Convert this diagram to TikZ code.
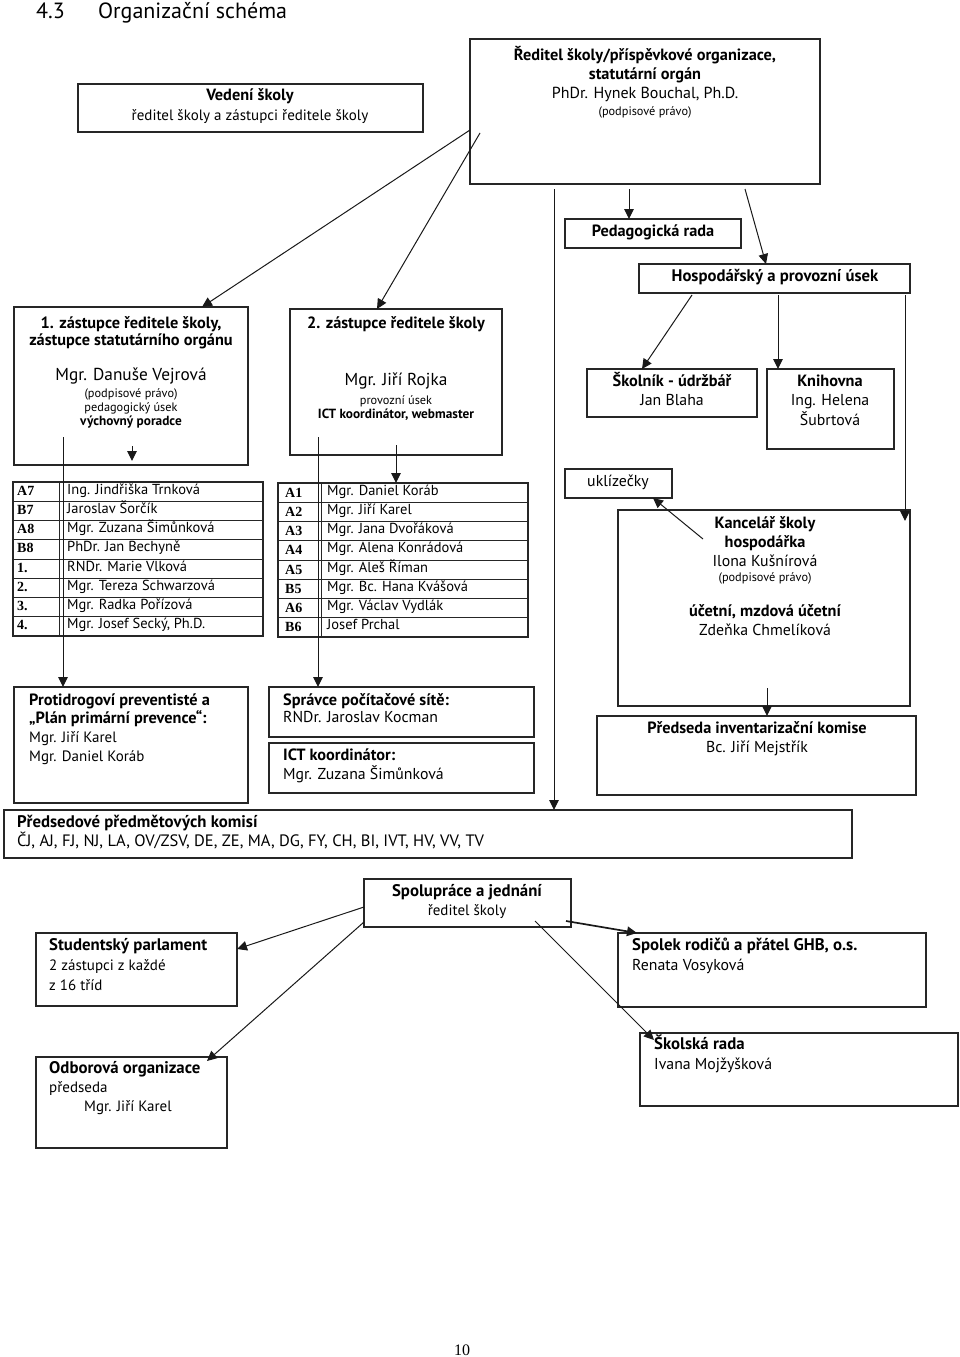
\documentclass[tikz,border=0pt]{standalone}
\usepackage{fontspec}
\setmainfont{PT Sans}
\newfontfamily\tabserif{Liberation Serif}
\usetikzlibrary{arrows.meta,calc}
\newcommand\fsz[1]{\fontsize{#1}{#1}\selectfont}
\tikzset{
 box/.style={draw=black!85, line width=1.3pt, inner sep=0pt, outer sep=0pt, anchor=north west},
 arr/.style={-{Triangle[length=10pt,width=9.5pt]}, line width=1pt, draw=black!90},
 tc/.style={anchor=mid, inner sep=0pt},
 tl/.style={anchor=mid west, inner sep=0pt},
 hb/.style={font=\fsz{16.3}\bfseries},
 hbb/.style={font=\fsz{16.8}\bfseries},
 rg/.style={font=\fsz{15}},
 rgb/.style={font=\fsz{15.8}},
 sm/.style={font=\fsz{12.3}},
 smb/.style={font=\fsz{13.3}\bfseries},
 tlab/.style={anchor=mid west, inner sep=0pt, font=\tabserif\fsz{14}\bfseries},
 tnam/.style={anchor=mid west, inner sep=0pt, font=\fsz{14.5}},
 rowline/.style={line width=0.9pt, draw=black!85},
}
\begin{document}
\begin{tikzpicture}[x=1pt,y=-1pt]
\useasboundingbox (0,0) rectangle (960,1357);
% title
\node[anchor=base west, inner sep=0pt, font=\fsz{22}] (tt1) at (36,18) {4.3};
\node[anchor=base west, inner sep=0pt, font=\fsz{22}] (tt2) at (98,18) {Organizační schéma};

% boxes
\node[box, minimum width=345pt, minimum height=48pt] (ved) at (78,84) {};
\node[box, minimum width=350pt, minimum height=145pt] (dir) at (470,39) {};
\node[box, minimum width=176pt, minimum height=29pt] (ped) at (565,219) {};
\node[box, minimum width=271pt, minimum height=29pt] (hos) at (639,264) {};
\node[box, minimum width=234pt, minimum height=158pt] (dep1) at (14,307) {};
\node[box, minimum width=212pt, minimum height=146pt] (dep2) at (290,309) {};
\node[box, minimum width=170pt, minimum height=48pt] (skol) at (587,369) {};
\node[box, minimum width=127pt, minimum height=80pt] (kni) at (767,369) {};
\node[box, minimum width=107pt, minimum height=29pt] (ukl) at (565,469) {};
\node[box, minimum width=292pt, minimum height=196pt] (kan) at (618,510) {};
\node[box, minimum width=250pt, minimum height=154pt] (tabL) at (13,482) {};
\node[box, minimum width=250pt, minimum height=154pt] (tabR) at (278,483) {};
\node[box, minimum width=234pt, minimum height=116pt] (prot) at (14,687) {};
\node[box, minimum width=265pt, minimum height=50pt] (spr) at (269,687) {};
\node[box, minimum width=265pt, minimum height=50pt] (ict) at (269,743) {};
\node[box, minimum width=319pt, minimum height=79pt] (inv) at (597,716) {};
\node[box, minimum width=848pt, minimum height=48pt] (pred) at (4,810) {};
\node[box, minimum width=207pt, minimum height=48pt] (spol) at (364,879) {};
\node[box, minimum width=201pt, minimum height=73pt] (stud) at (36,933) {};
\node[box, minimum width=308pt, minimum height=74pt] (spk) at (618,933) {};
\node[box, minimum width=191pt, minimum height=91pt] (odb) at (36,1057) {};
\node[box, minimum width=318pt, minimum height=73pt] (skr) at (640,1033) {};

% tables: grid lines
\foreach \i in {1,...,7} {
  \draw[rowline] ($(tabL.north west)+(0,{19.25*\i})$) -- ($(tabL.north east)+(0,{19.25*\i})$);
  \draw[rowline] ($(tabR.north west)+(0,{19.25*\i})$) -- ($(tabR.north east)+(0,{19.25*\i})$);
}
\draw[rowline] (59,0 |- tabL.north) -- (59,0 |- tabL.south);
\draw[rowline] (321,0 |- tabR.north) -- (321,0 |- tabR.south);

% left table text
\foreach \lab/\nam [count=\i from 0] in {A7/Ing. Jindřiška Trnková, B7/Jaroslav Šorčík, A8/Mgr. Zuzana Šimůnková, B8/PhDr. Jan Bechyně, 1./RNDr. Marie Vlková, 2./Mgr. Tereza Schwarzová, 3./Mgr. Radka Pořízová, 4./{Mgr. Josef Secký, Ph.D.}} {
  \node[tlab] (la\i) at (17,{482+19.25*(\i+0.5)+1}) {\lab};
  \node[tnam] (ln\i) at (67,{482+19.25*(\i+0.5)}) {\nam};
}
\foreach \lab/\nam [count=\i from 0] in {A1/Mgr. Daniel Koráb, A2/Mgr. Jiří Karel, A3/Mgr. Jana Dvořáková, A4/Mgr. Alena Konrádová, A5/Mgr. Aleš Říman, B5/Mgr. Bc. Hana Kvášová, A6/Mgr. Václav Vydlák, B6/Josef Prchal} {
  \node[tlab] (ra\i) at (285,{483+19.25*(\i+0.5)+2}) {\lab};
  \node[tnam] (rn\i) at (327,{483+19.25*(\i+0.5)}) {\nam};
}

% texts
\node[tc,hb] (v1) at (250,98) {Vedení školy};
\node[tc,rg] (v2) at (250,118) {ředitel školy a zástupci ředitele školy};

\node[tc,hb] (d1) at (645,58) {Ředitel školy/příspěvkové organizace,};
\node[tc,hb] (d2) at (645,77) {statutární orgán};
\node[tc,rg,font=\fsz{16}] (d3) at (645,96) {PhDr. Hynek Bouchal, Ph.D.};
\node[tc,sm] (d4) at (645,113) {(podpisové právo)};

\node[tc,hb] (p1) at (653,234) {Pedagogická rada};
\node[tc,hb,font=\fsz{16.7}\bfseries] (h1) at (775,279) {Hospodářský a provozní úsek};

\node[tc,hb] (a1) at (131,326) {1. zástupce ředitele školy,};
\node[tc,hb] (a2) at (131,343) {zástupce statutárního orgánu};
\node[tc,rg,font=\fsz{17.3}] (a3) at (131,378) {Mgr. Danuše Vejrová};
\node[tc,sm] (a4) at (131,395) {(podpisové právo)};
\node[tc,sm] (a5) at (131,409) {pedagogický úsek};
\node[tc,smb] (a6) at (131,423) {výchovný poradce};

\node[tc,hb] (b1) at (396,326) {2. zástupce ředitele školy};
\node[tc,rg,font=\fsz{17.3}] (b2) at (396,383) {Mgr. Jiří Rojka};
\node[tc,sm] (b3) at (396,402) {provozní úsek};
\node[tc,smb] (b4) at (396,416) {ICT koordinátor, webmaster};

\node[tc,hb] (s1) at (672,384) {Školník - údržbář};
\node[tc,rgb] (s2) at (672,403) {Jan Blaha};
\node[tc,hb] (k1) at (830,384) {Knihovna};
\node[tc,rgb] (k2) at (830,403) {Ing. Helena};
\node[tc,rgb] (k3) at (830,423) {Šubrtová};

\node[tc,rgb] (u1) at (618,484) {uklízečky};

\node[tc,hb] (n1) at (765,526) {Kancelář školy};
\node[tc,hb] (n2) at (765,545) {hospodářka};
\node[tc,rgb] (n3) at (765,564) {Ilona Kušnírová};
\node[tc,sm] (n4) at (765,579) {(podpisové právo)};
\node[tc,hb] (n5) at (765,614) {účetní, mzdová účetní};
\node[tc,rgb] (n6) at (765,633) {Zdeňka Chmelíková};

\node[tl,hb] (q1) at (29,703) {Protidrogoví preventisté a};
\node[tl,hb] (q2) at (29,721) {„Plán primární prevence“:};
\node[tl,rg] (q3) at (29,740) {Mgr. Jiří Karel};
\node[tl,rg] (q4) at (29,759) {Mgr. Daniel Koráb};

\node[tl,hb] (r1) at (283,703) {Správce počítačové sítě:};
\node[tl,rgb] (r2) at (283,720) {RNDr. Jaroslav Kocman};
\node[tl,hb] (r3) at (283,758) {ICT koordinátor:};
\node[tl,rgb] (r4) at (283,777) {Mgr. Zuzana Šimůnková};

\node[tc,hb] (i1) at (757,731) {Předseda inventarizační komise};
\node[tc,rgb] (i2) at (757,750) {Bc. Jiří Mejstřík};

\node[tl,hbb] (e1) at (17,825) {Předsedové předmětových komisí};
\node[tl,rg,font=\fsz{16.5}] (e2) at (17,844) {ČJ, AJ, FJ, NJ, LA, OV/ZSV, DE, ZE, MA, DG, FY, CH, BI, IVT, HV, VV, TV};

\node[tc,hbb] (o1) at (467,894) {Spolupráce a jednání};
\node[tc,rg] (o2) at (467,913) {ředitel školy};

\node[tl,hbb] (w1) at (49,948) {Studentský parlament};
\node[tl,rg] (w2) at (49,968) {2 zástupci z každé};
\node[tl,rg] (w3) at (49,988) {z 16 tříd};

\node[tl,hbb] (x1) at (632,948) {Spolek rodičů a přátel GHB, o.s.};
\node[tl,rgb] (x2) at (632,968) {Renata Vosyková};

\node[tl,hbb] (y1) at (49,1071) {Odborová organizace};
\node[tl,rg] (y2) at (49,1090) {předseda};
\node[tl,rg] (y3) at (84,1109) {Mgr. Jiří Karel};

\node[tl,hbb] (z1) at (654,1047) {Školská rada};
\node[tl,rgb] (z2) at (654,1067) {Ivana Mojžyšková};

\node[anchor=base, inner sep=0pt, font=\tabserif\fsz{16}] (pg) at (462,1355) {10};

% connectors
\coordinate (c1) at (470,130);
\coordinate (c2) at (480,133);
\coordinate (c3) at (554,189);
\coordinate (c4) at (629,189);
\coordinate (c5) at (745,189);
\coordinate (c6) at (63,437);
\coordinate (c7) at (132,446);
\coordinate (c7e) at (132,461);
\coordinate (c8) at (318,437);
\coordinate (c9) at (396,445);
\coordinate (c10) at (692,295);
\coordinate (c11) at (778,295);
\coordinate (c12) at (905,295);
\coordinate (c12e) at (905,521);
\coordinate (c13) at (703,539);
\coordinate (c14) at (767,688);

\draw[arr] (c1) -- ([xshift=188pt]dep1.north west);
\draw[arr] (c2) -- ([xshift=87pt]dep2.north west);
\draw[arr] (c3) -- (c3 |- pred.north);
\draw[arr] (c4) -- (c4 |- ped.north);
\draw[arr] (c5) -- ([xshift=127pt]hos.north west);
\draw[arr] (c6) -- (c6 |- prot.north);
\draw[arr] (c7) -- (c7e);
\draw[arr] (c8) -- (c8 |- spr.north);
\draw[arr] (c9) -- (c9 |- tabR.north);
\draw[arr] (c10) -- ([xshift=55pt]skol.north west);
\draw[arr] (c11) -- (c11 |- kni.north);
\draw[arr] (c12) -- (c12e);
\draw[arr] (c13) -- ([xshift=88pt]ukl.south west);
\draw[arr] (c14) -- (c14 |- inv.north);

\draw[arr] ([yshift=-28pt]spol.north west) -- ([yshift=-16pt]stud.north east);
\draw[arr] ([yshift=-43pt]spol.north west) -- ([xshift=-20pt,yshift=-4pt]odb.north east);
\draw[arr, line width=1.7pt] ([xshift=-5pt,yshift=-42pt]spol.north east) -- ([xshift=19pt]spk.north west);
\draw[arr] ([xshift=-36pt,yshift=-42pt]spol.north east) -- ([xshift=14pt,yshift=-7pt]skr.north west);
\end{tikzpicture}
\end{document}
